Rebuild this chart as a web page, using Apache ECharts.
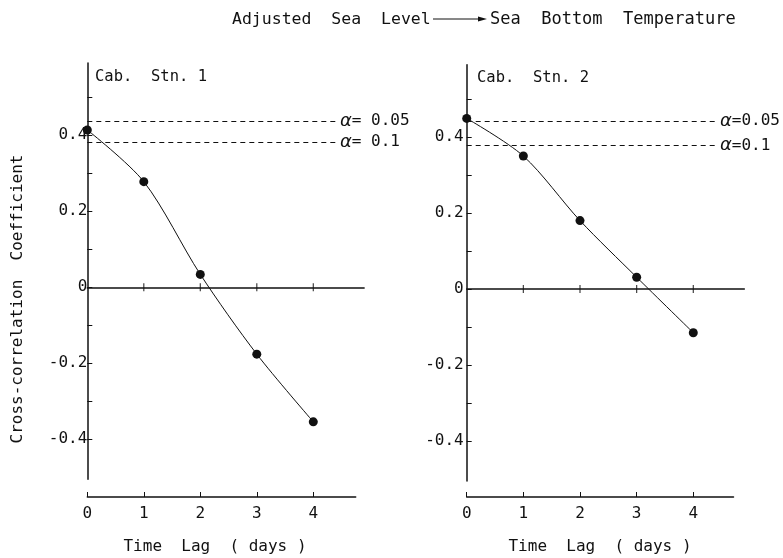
<!DOCTYPE html>
<html><head><meta charset="utf-8">
<script src="https://cdn.jsdelivr.net/npm/echarts@6/dist/echarts.min.js"></script>
<style>html,body{margin:0;padding:0;background:#fff}#c{width:783px;height:558px}</style>
</head><body><div id="c"></div>
<script>
const lags = [0, 1, 2, 3, 4];
const stn1 = [0.414, 0.278, 0.034, -0.176, -0.354];
const stn2 = [0.449, 0.350, 0.180, 0.031, -0.115];
const alpha1 = [0.438, 0.382];
const alpha2 = [0.442, 0.377];
const alphaText1 = ['= 0.05', '= 0.1'];
const alphaText2 = ['=0.05', '=0.1'];
const yTickVals = [0.5, 0.4, 0.3, 0.2, 0.1, 0, -0.1, -0.2, -0.3, -0.4];
const yLabelVals = [0.4, 0.2, 0, -0.2, -0.4];
const xTickVals = [0, 1, 2, 3, 4];
const zeroTickVals = [1, 2, 3, 4];
const panelNames = ['Cab.  Stn. 1', 'Cab.  Stn. 2'];
const titleLeft = 'Adjusted  Sea  Level';
const titleRight = 'Sea  Bottom  Temperature';
const xName = 'Time  Lag  ( days )';
const yName = 'Cross-correlation  Coefficient';

const FONT = 'DejaVu Sans Mono';
const INK = '#111';
const chart = echarts.init(document.getElementById('c'), null, {renderer: 'canvas'});

const fmtY = v => v === 0 ? '0' : (v < 0 ? '-' + Math.abs(v).toFixed(1) : v.toFixed(1));

const panels = [
  {left: 87.3, top: 63.1, pxDay: 56.5, botMax: 4.75, data: stn1, alpha: alpha1, alphaText: alphaText1, labMargin: 0},
  {left: 466.7, top: 64.8, pxDay: 56.65, botMax: 4.71, data: stn2, alpha: alpha2, alphaText: alphaText2, labMargin: 3}
];
const pxUnit = 380, yMax = 0.59, yMin = -0.505, dataXMax = 4.9, dashEnd = 4.4;

const grid = [], xAxis = [], yAxis = [], series = [];
panels.forEach((p, k) => {
  const g = k * 2;
  grid.push({left: p.left, top: p.top, width: dataXMax * p.pxDay, height: (yMax - yMin) * pxUnit});
  grid.push({left: p.left, top: 496, width: p.botMax * p.pxDay, height: 1});
  // zero line
  xAxis.push({type: 'value', gridIndex: g, min: 0, max: dataXMax, position: 'bottom',
    axisLine: {onZero: true, lineStyle: {color: INK, width: 1.5}},
    axisTick: {show: false},
    axisLabel: {show: false}, splitLine: {show: false}});
  // bottom axis
  xAxis.push({type: 'value', gridIndex: g + 1, min: 0, max: p.botMax, position: 'bottom',
    axisLine: {onZero: false, lineStyle: {color: INK, width: 1.5}},
    axisTick: {show: true, customValues: xTickVals, length: 5, inside: true, lineStyle: {color: INK, width: 1}},
    axisLabel: {customValues: xTickVals, margin: 9, color: INK, fontFamily: FONT, fontSize: 16},
    splitLine: {show: false}});
  yAxis.push({type: 'value', gridIndex: g, min: yMin, max: yMax,
    axisLine: {show: true, onZero: false, lineStyle: {color: INK, width: 1.5}},
    axisTick: {show: true, customValues: yTickVals, length: 5, inside: true, lineStyle: {color: INK, width: 1}},
    axisLabel: {customValues: yLabelVals, formatter: fmtY, margin: p.labMargin, color: INK, fontFamily: FONT, fontSize: 16},
    splitLine: {show: false}});
  yAxis.push({type: 'value', gridIndex: g + 1, min: 0, max: 1, show: false});
  // tick marks crossing the zero line
  series.push({
    type: 'scatter', xAxisIndex: k * 2, yAxisIndex: g, silent: true,
    data: zeroTickVals.map(t => [t, 0]),
    symbol: 'rect', symbolSize: [1.2, 8], itemStyle: {color: INK}, z: 1
  });
  series.push({
    type: 'line', xAxisIndex: k * 2, yAxisIndex: g,
    data: lags.map((x, i) => [x, p.data[i]]),
    smooth: 0.3, symbol: 'circle', symbolSize: 9,
    itemStyle: {color: INK}, lineStyle: {color: INK, width: 1},
    clip: false, z: 3,
    markLine: {
      silent: true, symbol: ['none', 'none'], animation: false,
      lineStyle: {color: INK, width: 1, type: [5, 4]},
      label: {show: true, position: 'end', distance: 4, color: INK, fontFamily: FONT, fontSize: 16,
        rich: {a: {fontFamily: 'DejaVu Sans', fontStyle: 'italic', fontSize: 18, color: INK}, b: {fontFamily: FONT, fontSize: 16, color: INK}}},
      data: p.alpha.map((v, i) => [
        {coord: [0, v]},
        {coord: [dashEnd, v], label: {formatter: '{a|α}{b|' + p.alphaText[i] + '}'}}
      ])
    }
  });
});

const txt = (x, y, text, size, extra) => Object.assign({
  type: 'text', x: x, y: y,
  style: {text: text, fill: INK, font: size + 'px "' + FONT + '"', textVerticalAlign: 'middle'}
}, extra || {});

const graphic = [
  txt(232, 20, titleLeft, 16.5),
  {type: 'line', shape: {x1: 433, y1: 19, x2: 482, y2: 19}, style: {stroke: INK, lineWidth: 1}},
  {type: 'polygon', shape: {points: [[478, 16.5], [487, 19], [478, 21.5]]}, style: {fill: INK}},
  txt(490, 20, titleRight, 17),
  txt(95, 77, panelNames[0], 15.5),
  txt(477, 77.5, panelNames[1], 15.5),
  {type: 'text', x: 215, y: 547, style: {text: xName, fill: INK, font: '16px "' + FONT + '"', textAlign: 'center', textVerticalAlign: 'middle'}},
  {type: 'text', x: 600, y: 547, style: {text: xName, fill: INK, font: '16px "' + FONT + '"', textAlign: 'center', textVerticalAlign: 'middle'}},
  {type: 'text', x: 18, y: 299, rotation: Math.PI / 2,
    style: {text: yName, fill: INK, font: '16px "' + FONT + '"', textAlign: 'center', textVerticalAlign: 'middle'}}
];

chart.setOption({
  animation: false,
  backgroundColor: '#fff',
  grid: grid, xAxis: xAxis, yAxis: yAxis, series: series, graphic: graphic
});
</script>
</body></html>
